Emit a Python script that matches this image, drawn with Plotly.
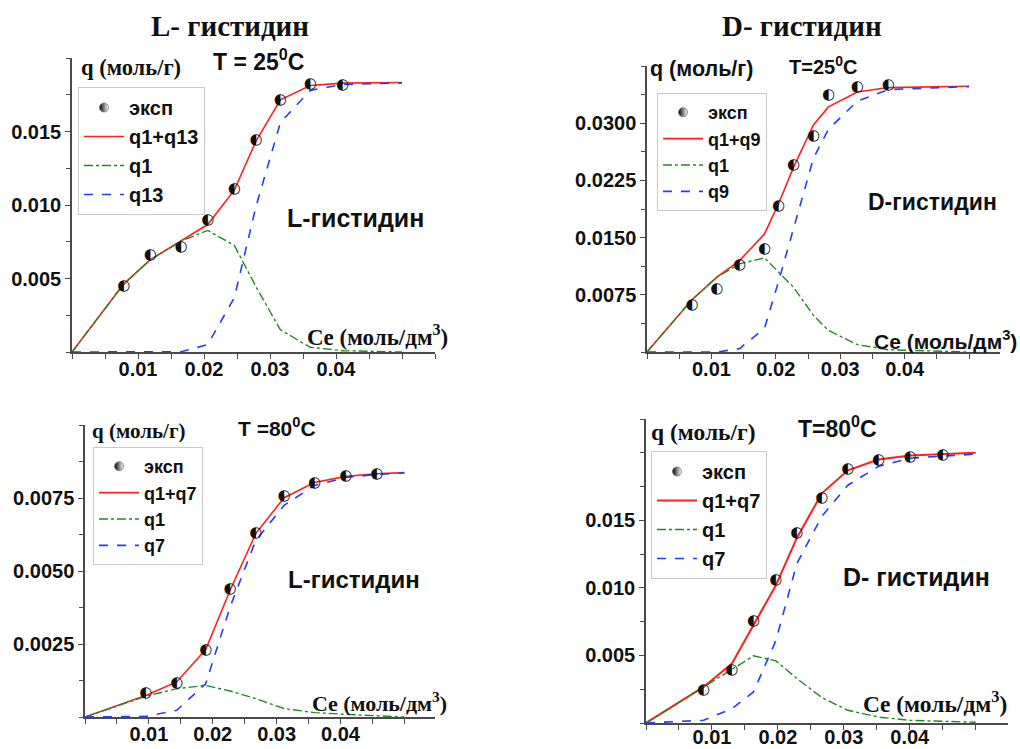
import plotly.graph_objects as go

# ---------------- data ----------------
# Panel A: L-histidine, 25 C
xexp_L25 = [0.00783, 0.01187, 0.01652, 0.02056, 0.0246, 0.02788, 0.03157, 0.03611, 0.0410]
qexp_L25 = [0.0045, 0.00658, 0.00714, 0.00894, 0.01106, 0.01441, 0.01712, 0.01822, 0.01818]
xfit_L25 = [0, 0.00783, 0.01187, 0.01652, 0.02056, 0.0246, 0.02788, 0.03157, 0.03611, 0.0410, 0.05]
qsum_L25 = [0, 0.00462, 0.00628, 0.00754, 0.00867, 0.01101, 0.01435, 0.01716, 0.01813, 0.01829, 0.01833]
q1_L25 = [0, 0.00462, 0.00628, 0.00754, 0.00827, 0.00725, 0.00444, 0.00151, 0.00032, 0.00009, 0.0]
q13_L25 = [0, 0, 0, 0.00002, 0.0005, 0.0037, 0.0099, 0.0156, 0.0178, 0.0182, 0.0183]

# Panel B: D-histidine, 25 C
xexp_D25 = [0.00698, 0.01085, 0.01437, 0.01824, 0.02041, 0.02274, 0.02584, 0.02817, 0.03266, 0.03747]
qexp_D25 = [0.0061, 0.00828, 0.01134, 0.01347, 0.0191, 0.02451, 0.02834, 0.03366, 0.03467, 0.03501]
xfit_D25 = [0, 0.00698, 0.01085, 0.01437, 0.01824, 0.02041, 0.02274, 0.02584, 0.02817, 0.03266, 0.03747, 0.05]
qsum_D25 = [0, 0.00685, 0.00981, 0.01199, 0.01548, 0.0194, 0.0242, 0.02978, 0.03214, 0.0341, 0.03467, 0.03484]
q1_D25 = [0, 0.00685, 0.00981, 0.01156, 0.01234, 0.01047, 0.0085, 0.0048, 0.00283, 0.00096, 0.0003, 0.0]
q9_D25 = [0, 0, 0, 0.00044, 0.0031, 0.0092, 0.0163, 0.0254, 0.0292, 0.0329, 0.0344, 0.0348]

# Panel C: L-histidine, 80 C
xexp_L80 = [0.0095, 0.01436, 0.0189, 0.02272, 0.02674, 0.03117, 0.03593, 0.04084, 0.04569]
qexp_L80 = [0.0008, 0.00116, 0.00228, 0.00437, 0.00631, 0.00757, 0.00799, 0.00824, 0.0083]
xfit_L80 = [0, 0.0095, 0.01436, 0.0189, 0.02272, 0.02674, 0.03117, 0.03593, 0.04084, 0.04569, 0.05]
qsum_L80 = [0, 0.00074, 0.0012, 0.00231, 0.00434, 0.00628, 0.00751, 0.00803, 0.00824, 0.00833, 0.00837]
q1_L80 = [0, 0.00071, 0.00097, 0.00108, 0.00089, 0.00063, 0.00029, 0.00015, 0.00009, 0.00005, 0.0]
q7_L80 = [0, 0.00002, 0.00023, 0.00114, 0.00377, 0.00605, 0.00725, 0.00793, 0.0082, 0.00831, 0.00836]

# Panel D: D-histidine, 80 C
xexp_D80 = [0.00874, 0.01303, 0.01631, 0.0197, 0.02288, 0.02667, 0.03061, 0.03525, 0.04005, 0.045]
qexp_D80 = [0.00242, 0.0039, 0.00756, 0.01053, 0.01404, 0.01663, 0.01881, 0.01948, 0.01967, 0.0198]
xfit_D80 = [0, 0.00874, 0.01303, 0.01631, 0.0197, 0.02288, 0.02667, 0.03061, 0.03525, 0.04005, 0.05]
qsum_D80 = [0, 0.00267, 0.0044, 0.0072, 0.0102, 0.0137, 0.0170, 0.0187, 0.0195, 0.0198, 0.0200]
q1_D80 = [0, 0.00267, 0.00403, 0.00497, 0.0046, 0.00329, 0.00188, 0.00094, 0.00044, 0.0002, 0.00005]
q7_D80 = [0, 0.0002, 0.00106, 0.0023, 0.0061, 0.0118, 0.0153, 0.0176, 0.0190, 0.0196, 0.0199]

x_ticks = [0.01, 0.02, 0.03, 0.04]
x_ticktext = ["0.01", "0.02", "0.03", "0.04"]
yt_A = [0.005, 0.010, 0.015]; ytt_A = ["0.005", "0.010", "0.015"]
yt_B = [0.0075, 0.0150, 0.0225, 0.0300]; ytt_B = ["0.0075", "0.0150", "0.0225", "0.0300"]
yt_C = [0.0025, 0.0050, 0.0075]; ytt_C = ["0.0025", "0.0050", "0.0075"]
yt_D = [0.005, 0.010, 0.015]; ytt_D = ["0.005", "0.010", "0.015"]

W, H = 1020, 749
SANS = "Liberation Sans, Arial, sans-serif"
SERIF = "Liberation Serif, Times New Roman, serif"
AXC = "#4a4a4a"

fig = go.Figure()

def px(x):
    return x / W

def py(y):
    return 1 - y / H

panels = [
    dict(k="", dx=(72, 435), dy=(58, 352), xr=0.055, yr=0.02, yt=yt_A, ytt=ytt_A, ymin=0.0025,
         leg="legend", lx=78, ly=87, lf=20, lw=1.6, tf=20, xs=-7,
         xe=xexp_L25, qe=qexp_L25, xf=xfit_L25, qs=qsum_L25, q1=q1_L25, q2=q13_L25,
         n2="q13", nsum="q1+q13"),
    dict(k="2", dx=(647, 1000), dy=(66, 352), xr=0.0548, yr=0.0375, yt=yt_B, ytt=ytt_B, ymin=0.00375,
         leg="legend2", lx=657, ly=93, lf=18, lw=1.6, tf=20, xs=-7,
         xe=xexp_D25, qe=qexp_D25, xf=xfit_D25, qs=qsum_D25, q1=q1_D25, q2=q9_D25,
         n2="q9", nsum="q1+q9"),
    dict(k="3", dx=(85, 435), dy=(425, 717), xr=0.0548, yr=0.01, yt=yt_C, ytt=ytt_C, ymin=0.00125,
         leg="legend3", lx=93, ly=447, lf=18, lw=1.6, tf=20, xs=-7,
         xe=xexp_L80, qe=qexp_L80, xf=xfit_L80, qs=qsum_L80, q1=q1_L80, q2=q7_L80,
         n2="q7", nsum="q1+q7"),
    dict(k="4", dx=(646, 1008), dy=(419, 723), xr=0.0549, yr=0.0225, yt=yt_D, ytt=ytt_D, ymin=0.0025,
         leg="legend4", lx=651, ly=451, lf=20, lw=2.0, tf=20, xs=-10,
         xe=xexp_D80, qe=qexp_D80, xf=xfit_D80, qs=qsum_D80, q1=q1_D80, q2=q7_D80,
         n2="q7", nsum="q1+q7"),
]

layout_axes = {}
legends = {}
for p in panels:
    k = p["k"]
    xa, ya = "x" + k, "y" + k
    common = dict(xaxis=xa, yaxis=ya, legend=p["leg"])
    # legend entry for experimental points
    fig.add_trace(go.Scatter(x=[None], y=[None], mode="markers", name="эксп",
                             marker=dict(symbol="circle", size=9, color="black",
                                         gradient=dict(type="horizontal", color="white"),
                                         line=dict(color="#777", width=0.8)),
                             **common))
    fig.add_trace(go.Scatter(x=p["xf"], y=p["qs"], mode="lines", name=p["nsum"],
                             line=dict(color="#ff1f1f", width=p["lw"]), **common))
    fig.add_trace(go.Scatter(x=p["xf"], y=p["q1"], mode="lines", name="q1",
                             line=dict(color="#1f8a1f", width=1.4, dash="dashdot"), **common))
    fig.add_trace(go.Scatter(x=p["xf"], y=p["q2"], mode="lines", name=p["n2"],
                             line=dict(color="#1f3fff", width=1.6, dash="dash"), **common))
    # experimental points (half-filled circles)
    fig.add_trace(go.Scatter(x=p["xe"], y=p["qe"], mode="text", text=["◐"] * len(p["xe"]),
                             textposition="middle center",
                             textfont=dict(family="DejaVu Sans", size=15, color="#111"),
                             showlegend=False, xaxis=xa, yaxis=ya, hoverinfo="skip"))

    axis_style = dict(showgrid=False, zeroline=False, showline=True, linecolor=AXC, linewidth=1.5,
                      ticks="outside", tickcolor=AXC, ticklen=5, tickwidth=1.3, automargin=False,
                      tickfont=dict(family=SANS, size=p["tf"], color="#111", weight="bold"))
    xd = (px(p["dx"][0]), px(p["dx"][1]))
    yd = (py(p["dy"][1]), py(p["dy"][0]))
    layout_axes["xaxis" + k] = dict(domain=list(xd), range=[0, p["xr"]], anchor=ya,
                                    tickvals=x_ticks, ticktext=x_ticktext, ticklabelstandoff=p["xs"],
                                    minor=dict(ticks="outside", dtick=0.005, tick0=0, ticklen=5,
                                               tickcolor=AXC, tickwidth=1.3),
                                    **axis_style)
    layout_axes["yaxis" + k] = dict(domain=list(yd), range=[0, p["yr"]], anchor=xa,
                                    tickvals=p["yt"], ticktext=p["ytt"],
                                    minor=dict(ticks="outside", dtick=p["ymin"], tick0=0, ticklen=4,
                                               tickcolor=AXC, tickwidth=1.2),
                                    **axis_style)
    legends[p["leg"]] = dict(x=px(p["lx"]), y=py(p["ly"]), xanchor="left", yanchor="top",
                             bgcolor="white", bordercolor="#c8c8c8", borderwidth=1,
                             font=dict(family=SANS, size=p["lf"], color="#111", weight="bold"),
                             itemwidth=40, tracegroupgap=0)

def ann(text, x, y, family, size, xanchor="center"):
    return dict(text=text, x=px(x), y=py(y), xref="paper", yref="paper", showarrow=False,
                xanchor=xanchor, yanchor="middle", font=dict(family=family, size=size, color="#111"))

annotations = [
    ann("<b>L- гистидин</b>", 230, 26, SERIF, 29),
    ann("<b>D- гистидин</b>", 802, 26, SERIF, 29),
    # panel A
    ann("<b>T = 25<sup>0</sup>C</b>", 258, 60, SANS, 23),
    ann("<b>q (моль/г)</b>", 79, 68, SERIF, 22.5, "left"),
    ann("<b>L-гистидин</b>", 355, 218, SANS, 25),
    ann("<b>Ce (моль/дм<sup>3</sup>)</b>", 377, 335, SERIF, 23),
    # panel B
    ann("<b>T=25<sup>0</sup>C</b>", 823, 66, SANS, 20),
    ann("<b>q (моль/г)</b>", 648, 69, SANS, 21.5, "left"),
    ann("<b>D-гистидин</b>", 932, 202, SANS, 23),
    ann("<b>Ce (моль/дм<sup>3</sup>)</b>", 1019, 340, SANS, 21, "right"),
    # panel C
    ann("<b>T =80<sup>0</sup>C</b>", 277, 427, SANS, 21),
    ann("<b>q (моль/г)</b>", 90, 431, SERIF, 21, "left"),
    ann("<b>L-гистидин</b>", 354, 579, SANS, 24),
    ann("<b>Ce (моль/дм<sup>3</sup>)</b>", 379, 702, SERIF, 22),
    # panel D
    ann("<b>T=80<sup>0</sup>C</b>", 837, 427, SANS, 23),
    ann("<b>q (моль/г)</b>", 649, 432, SERIF, 23.5, "left"),
    ann("<b>D- гистидин</b>", 916, 577, SANS, 25),
    ann("<b>Ce (моль/дм<sup>3</sup>)</b>", 935, 702, SERIF, 23.5),
]

fig.update_layout(width=W, height=H, margin=dict(l=0, r=0, t=0, b=0, autoexpand=False),
                  paper_bgcolor="white", plot_bgcolor="white",
                  annotations=annotations, **layout_axes, **legends)

css_fix = (
    "var s=document.createElement('style');"
    "s.textContent='html,body{margin:0;padding:0;width:1020px;height:749px;overflow:hidden;}"
    ".plotly-graph-div{display:block;}';"
    "document.head.appendChild(s);"
)
fig.write_html("out.html", config={"displayModeBar": False}, post_script=css_fix)
